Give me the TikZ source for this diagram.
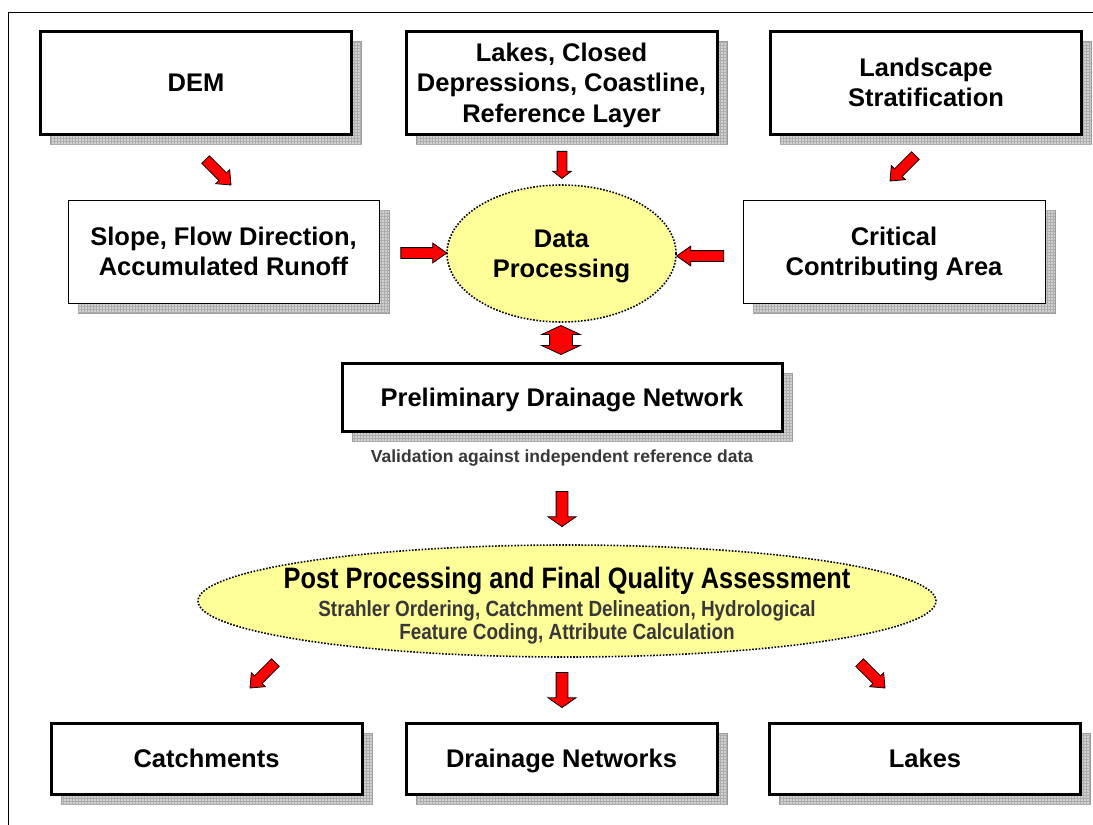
\documentclass[tikz,border=0pt]{standalone}
\usepackage{fontspec}
\setmainfont{Liberation Sans}
\newfontfamily\narrowfont[FakeStretch=0.86]{Liberation Sans}
\usepackage{tikz}
\usetikzlibrary{shapes, shapes.arrows, patterns}

\definecolor{paleyellow}{RGB}{255,255,153}
\newcommand{\boxfont}{\fontsize{25.5}{30.5}\selectfont\bfseries}
\newcommand{\titlefont}{\narrowfont\bfseries\fontsize{29.5}{30}\selectfont}
\newcommand{\subfont}{\narrowfont\bfseries\fontsize{22}{23}\selectfont}

\begin{document}
\begin{tikzpicture}[x=1pt, y=-1pt,
		shadowed/.style={preaction={fill=black!18, draw=black!40, line width=0.5pt, transform canvas={xshift=10pt, yshift=-10pt}},
			preaction={pattern=grid, pattern color=black!32, transform canvas={xshift=10pt, yshift=-10pt}}},
		bigbox/.style={shadowed, draw, fill=white, line width=3pt, minimum width=311pt, minimum height=103pt, align=center, font=\boxfont, text depth=0pt},
		flatbox/.style={bigbox, line width=1pt},
		cloud/.style={ellipse, draw, line width=1.6pt, dash pattern=on 1.6pt off 1.6pt, fill=paleyellow, align=center, inner sep=0pt},
		redarrow/.style={single arrow, draw, fill=red, line width=0.8pt, inner sep=0pt, text height=10pt, text depth=0pt,
			single arrow head extend=4.5pt, single arrow tip angle=80, minimum height=#1}]
		\useasboundingbox[fill=white] (0, 0) rectangle (1093, 825);
		\draw[line width=1pt] (8, 825) -- (8, 12) -- (1093, 12);

		% inputs
		\node[bigbox] (dem) at (196, 82.5) {DEM};
		\node[bigbox] (lakes) at (561.5, 82.5) {Lakes, Closed\\Depressions, Coastline,\\Reference Layer};
		\node[bigbox] (strat) at (926, 82.5) {Landscape\\Stratification};
		\node[flatbox] (slope) at (223.5, 251.5) {Slope, Flow Direction,\\Accumulated Runoff};
		\node[flatbox, minimum width=302pt] (cca) at (894, 251.5) {Critical\\Contributing Area};
		\node[cloud, minimum width=229pt, minimum height=137pt, font=\boxfont, text depth=0pt] (dp) at (561.5, 253.5) {Data\\Processing};

		% network
		\node[bigbox, minimum width=440pt, minimum height=68pt] (pdn) at (562, 397) {Preliminary Drainage Network};
		\node[font=\bfseries\fontsize{17.5}{20}\selectfont, text=black!78] (valid) at (562, 458) {Validation against independent reference data};
		\node[cloud, minimum width=738pt, minimum height=112pt,
			label={[name=ppqtext, font=\subfont, text=black!78, align=center, yshift=-5pt]center:{\textcolor{black}{\titlefont Post Processing and Final Quality Assessment}\\[5pt]Strahler Ordering, Catchment Delineation, Hydrological\\Feature Coding, Attribute Calculation}}]
			(ppq) at (567, 601) {};

		% outputs
		\node[bigbox, minimum height=71pt] (catch) at (206.5, 758.5) {Catchments};
		\node[bigbox, minimum height=71pt] (drain) at (561.5, 758.5) {Drainage Networks};
		\node[bigbox, minimum height=71pt] (lakeout) at (925, 758.5) {Lakes};

		% arrows
		\node[redarrow=36pt, rotate=-45] (a1) at (216, 170) {};
		\node[redarrow=27pt, rotate=-90, text height=9pt, single arrow tip angle=105] (a2) at (562, 163) {};
		\node[redarrow=36pt, rotate=-135] (a3) at (905, 166) {};
		\node[redarrow=46pt, single arrow tip angle=70] (a4) at (420, 253) {};
		\node[redarrow=47pt, rotate=180, single arrow tip angle=70] (a5) at (704, 256) {};
		\node[double arrow, draw, fill=red, line width=0.8pt, inner sep=0pt, text height=22pt, text depth=0pt, rotate=90,
			double arrow head extend=8pt, double arrow tip angle=130, minimum height=29pt] (a6) at (561, 340) {};
		\node[redarrow=35pt, rotate=-90, text height=11pt, single arrow head extend=8pt, single arrow tip angle=110] (a7) at (562, 507) {};
		\node[redarrow=36pt, rotate=-135] (a8) at (265, 673) {};
		\node[redarrow=35pt, rotate=-90, text height=11pt, single arrow head extend=8pt, single arrow tip angle=110] (a9) at (562, 688) {};
		\node[redarrow=36pt, rotate=-45] (a10) at (870, 673) {};
	\end{tikzpicture}
\end{document}
